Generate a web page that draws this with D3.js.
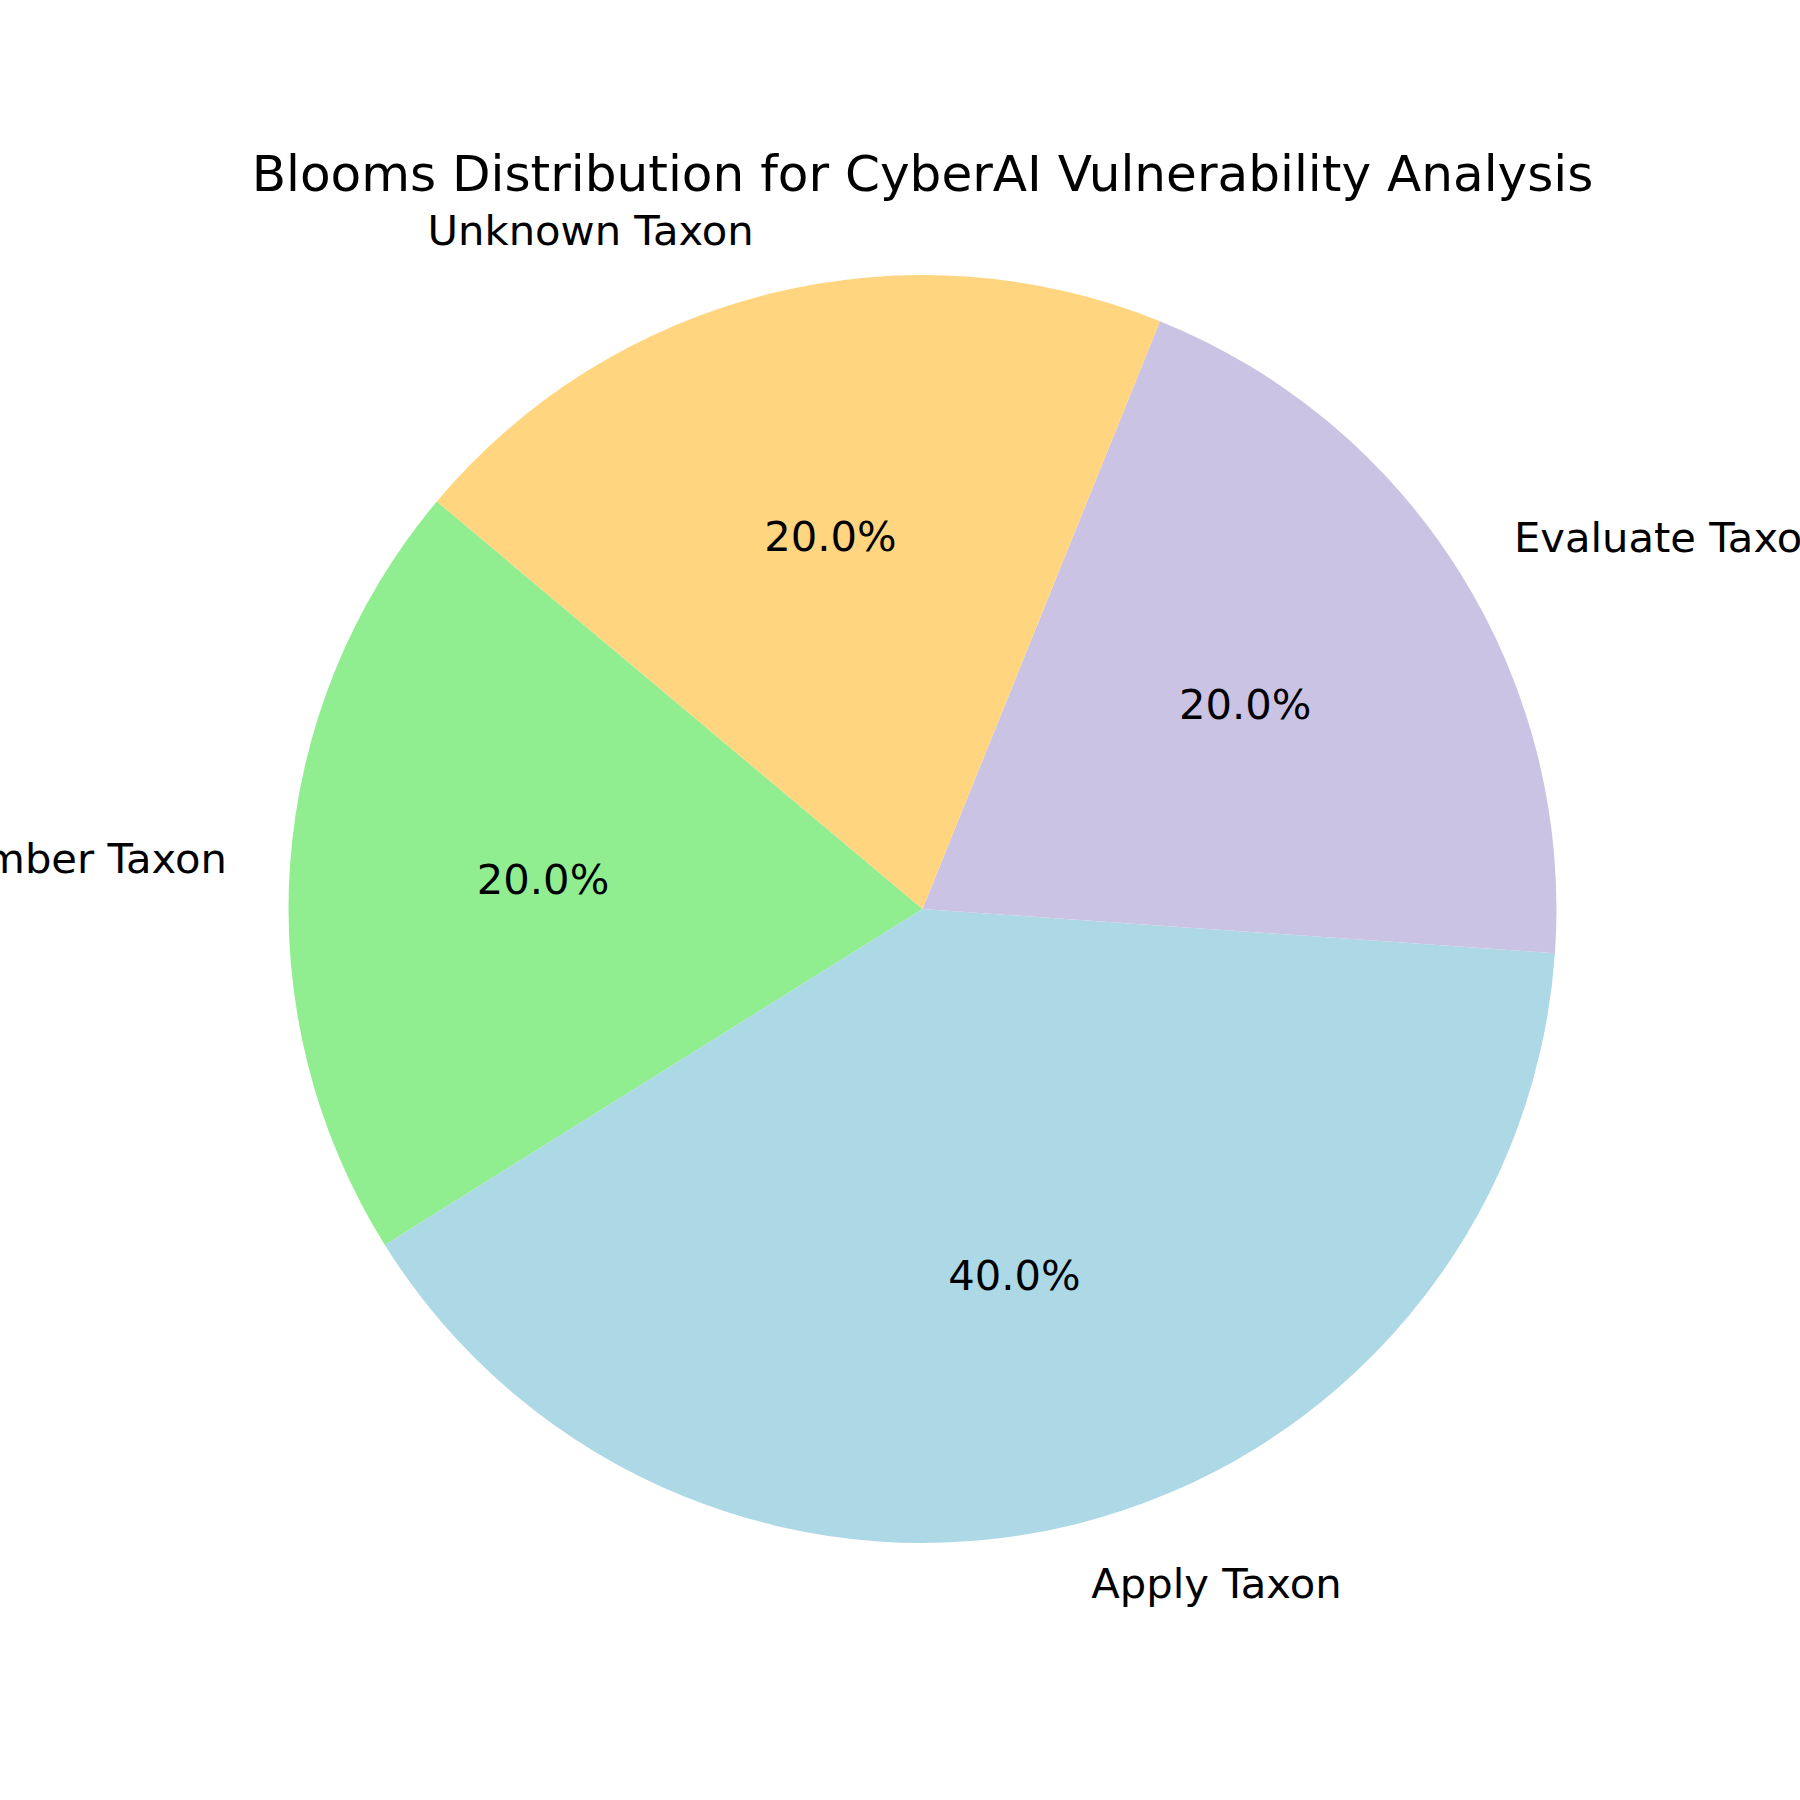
<!DOCTYPE html>
<html>
<head>
<meta charset="utf-8">
<script src="https://cdn.jsdelivr.net/npm/d3@7"></script>
<style>
  html, body { margin: 0; padding: 0; background: #ffffff; }
  svg { display: block; }
  text { font-family: "DejaVu Sans", sans-serif; fill: #000000; }
</style>
</head>
<body>
<svg id="chart" width="1800" height="1800"></svg>
<script>
const categories = ["Remember Taxon", "Apply Taxon", "Evaluate Taxon", "Unknown Taxon"];
const values = [1, 2, 1, 1];
const colors = ["#90EE90", "#ADD8E6", "#CBC3E3", "#FFD580"];
const titleText = "Blooms Distribution for CyberAI Vulnerability Analysis";

const W = 1800, H = 1800;
const cx = 922.5, cy = 909, R = 634;
const startDeg = 140; // matplotlib startangle, counter-clockwise

const svg = d3.select("#chart");
svg.append("rect").attr("width", W).attr("height", H).attr("fill", "#ffffff");

const toRad = d => d * Math.PI / 180;
const pie = d3.pie().sort(null).value(d => d.v)
  .startAngle(toRad(90 - startDeg))
  .endAngle(toRad(90 - startDeg - 360));

const data = categories.map((c, i) => ({ c, v: values[i], col: colors[i] }));
const arcs = pie(data);
const total = d3.sum(values);

const arc = d3.arc().innerRadius(0).outerRadius(R);
const labelArc = d3.arc().innerRadius(R * 1.1).outerRadius(R * 1.1);
const pctArc = d3.arc().innerRadius(R * 0.6).outerRadius(R * 0.6);

const g = svg.append("g").attr("transform", `translate(${cx},${cy})`);

g.selectAll("path.slice").data(arcs).enter().append("path")
  .attr("class", "slice")
  .attr("d", arc)
  .attr("fill", d => d.data.col);

g.selectAll("text.label").data(arcs).enter().append("text")
  .attr("class", "label")
  .attr("x", d => labelArc.centroid(d)[0])
  .attr("y", d => labelArc.centroid(d)[1] + 12.5)
  .attr("text-anchor", d => labelArc.centroid(d)[0] < 0 ? "end" : "start")
  .attr("font-size", 41.7)
  .text(d => d.data.c);

g.selectAll("text.pct").data(arcs).enter().append("text")
  .attr("class", "pct")
  .attr("x", d => pctArc.centroid(d)[0])
  .attr("y", d => pctArc.centroid(d)[1] + 11.5)
  .attr("text-anchor", "middle")
  .attr("font-size", 41.7)
  .text(d => (d.data.v / total * 100).toFixed(1) + "%");

svg.append("text")
  .attr("x", cx)
  .attr("y", 191)
  .attr("text-anchor", "middle")
  .attr("font-size", 50.1)
  .text(titleText);
</script>
</body>
</html>
